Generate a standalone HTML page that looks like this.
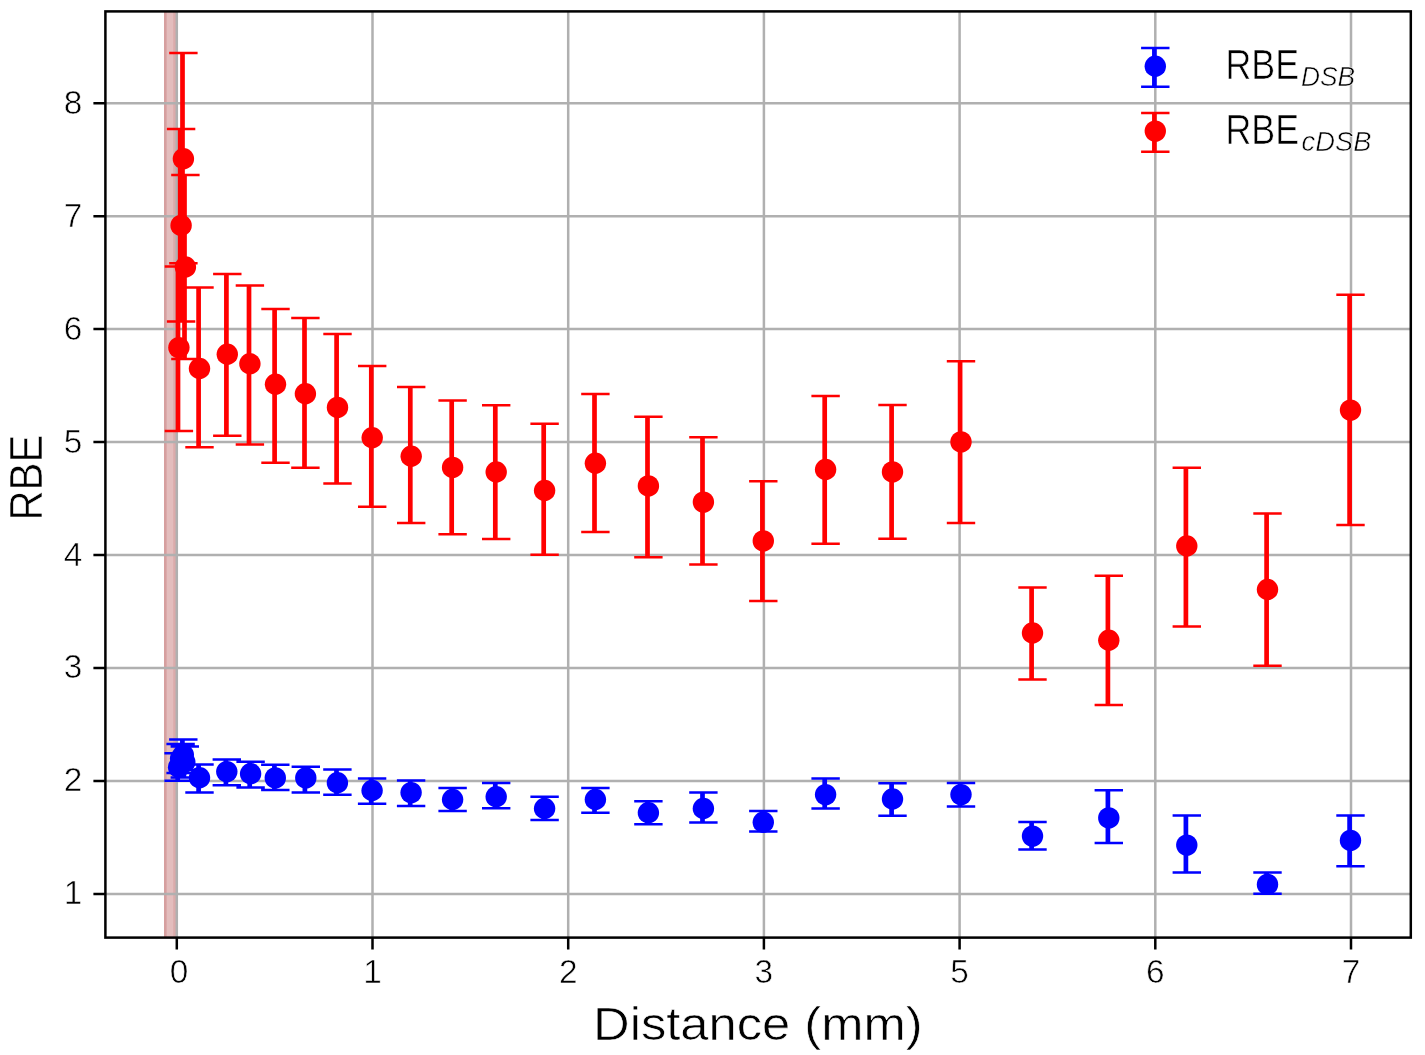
<!DOCTYPE html>
<html><head><meta charset="utf-8"><title>RBE vs Distance</title>
<style>html,body{margin:0;padding:0;background:#fff;overflow:hidden}svg{display:block}text{font-family:"Liberation Sans",sans-serif;fill:#000}.th{stroke:#fff;stroke-width:0.6px}svg{will-change:transform}</style></head><body>
<svg width="1425" height="1055" viewBox="0 0 1425 1055">
<rect x="0" y="0" width="1425" height="1055" fill="#fff"/>
<g fill="rgb(165,42,42)" fill-opacity="0.31"><rect x="164" y="11.4" width="12.8" height="926.2"/><rect x="164" y="11.4" width="2.6" height="926.2" fill-opacity="0.2"/><rect x="173.2" y="11.4" width="3.6" height="926.2" fill-opacity="0.12"/></g>
<path d="M176.8 11.4V937.6M372.5 11.4V937.6M568.2 11.4V937.6M763.9 11.4V937.6M959.6 11.4V937.6M1155.3 11.4V937.6M1351 11.4V937.6M105.4 893.9H1410.8M105.4 780.94H1410.8M105.4 667.98H1410.8M105.4 555.02H1410.8M105.4 442.06H1410.8M105.4 329.1H1410.8M105.4 216.14H1410.8M105.4 103.18H1410.8" stroke="#b0b0b0" stroke-width="2.5" fill="none"/>
<path d="M177.7 753.2V780.8M179.7 744V773M182.4 739.5V769.9M183.9 746.4V777.6M198.6 764.6V792.4M225.9 759.6V785.3M249.7 761.7V787.4M274.4 764.8V790.1M304.9 766.7V792.6M336.5 769.5V794.7M371.2 778.5V803.8M410.2 780.6V805.9M451.7 787.9V811.1M495.3 783V808.3M543.7 796.7V819.9M594.5 787.9V812.7M647.5 801.2V824.3M702.5 792.5V822.6M762.4 811.1V831.5M824.7 778.4V808.5M891.6 783.3V815.7M960.1 783V806.4M1031.6 822.1V849.6M1107.9 790.3V843M1185.9 815.6V872.6M1266.6 872.6V893.7M1349.6 815.6V866.2" stroke="#0000ff" stroke-width="4.7" fill="none"/>
<path d="M164.4 753.2H192.8M164.4 780.8H192.8M166.4 744H194.8M166.4 773H194.8M169.1 739.5H197.5M169.1 769.9H197.5M170.6 746.4H199M170.6 777.6H199M185.3 764.6H213.7M185.3 792.4H213.7M212.6 759.6H241M212.6 785.3H241M236.4 761.7H264.8M236.4 787.4H264.8M261.1 764.8H289.5M261.1 790.1H289.5M291.6 766.7H320M291.6 792.6H320M323.2 769.5H351.6M323.2 794.7H351.6M357.9 778.5H386.3M357.9 803.8H386.3M396.9 780.6H425.3M396.9 805.9H425.3M438.4 787.9H466.8M438.4 811.1H466.8M482 783H510.4M482 808.3H510.4M530.4 796.7H558.8M530.4 819.9H558.8M581.2 787.9H609.6M581.2 812.7H609.6M634.2 801.2H662.6M634.2 824.3H662.6M689.2 792.5H717.6M689.2 822.6H717.6M749.1 811.1H777.5M749.1 831.5H777.5M811.4 778.4H839.8M811.4 808.5H839.8M878.3 783.3H906.7M878.3 815.7H906.7M946.8 783H975.2M946.8 806.4H975.2M1018.3 822.1H1046.7M1018.3 849.6H1046.7M1094.6 790.3H1123M1094.6 843H1123M1172.6 815.6H1201M1172.6 872.6H1201M1253.3 872.6H1281.7M1253.3 893.7H1281.7M1336.3 815.6H1364.7M1336.3 866.2H1364.7" stroke="#0000ff" stroke-width="2.5" fill="none"/>
<g fill="#0000ff"><circle cx="178.6" cy="767.2" r="10.7"/><circle cx="180.6" cy="758.5" r="10.7"/><circle cx="183.3" cy="754.7" r="10.7"/><circle cx="184.8" cy="762" r="10.7"/><circle cx="199.5" cy="777.8" r="10.7"/><circle cx="226.8" cy="771.6" r="10.7"/><circle cx="250.6" cy="773.7" r="10.7"/><circle cx="275.3" cy="777.9" r="10.7"/><circle cx="305.8" cy="777.9" r="10.7"/><circle cx="337.4" cy="782.7" r="10.7"/><circle cx="372.1" cy="790.5" r="10.7"/><circle cx="411.1" cy="792.6" r="10.7"/><circle cx="452.6" cy="799.5" r="10.7"/><circle cx="496.2" cy="796.7" r="10.7"/><circle cx="544.6" cy="808.5" r="10.7"/><circle cx="595.4" cy="799.5" r="10.7"/><circle cx="648.4" cy="812.7" r="10.7"/><circle cx="703.4" cy="808.5" r="10.7"/><circle cx="763.3" cy="822.2" r="10.7"/><circle cx="825.6" cy="794.6" r="10.7"/><circle cx="892.5" cy="799" r="10.7"/><circle cx="961" cy="794.6" r="10.7"/><circle cx="1032.5" cy="836.1" r="10.7"/><circle cx="1108.8" cy="817.9" r="10.7"/><circle cx="1186.8" cy="845.1" r="10.7"/><circle cx="1267.5" cy="884.4" r="10.7"/><circle cx="1350.5" cy="840.4" r="10.7"/></g>
<path d="M178 266.6V430.9M180.2 128.9V321.5M182.5 52.9V263.2M184.5 174.9V359M198.6 287.5V447.2M226.4 273.9V435.7M249 285.6V444.4M274.6 308.9V462.8M304.5 318V467.7M336.6 334V483.6M371.3 366.1V506.7M410.3 386.9V522.9M451.7 400.6V534.3M495.3 405.3V538.9M543.7 423.8V554.7M594.5 393.9V532M647.5 416.8V557.3M702.5 437.3V564.6M762.4 481.2V601.1M824.7 396V543.8M891.6 405V538.8M960.1 361.2V522.9M1031.6 587.4V679.6M1107.9 575.7V704.9M1185.9 467.7V626.6M1266.6 513.5V665.8M1349.6 294.7V524.9" stroke="#ff0000" stroke-width="4.7" fill="none"/>
<path d="M164.7 266.6H193.1M164.7 430.9H193.1M166.9 128.9H195.3M166.9 321.5H195.3M169.2 52.9H197.6M169.2 263.2H197.6M171.2 174.9H199.6M171.2 359H199.6M185.3 287.5H213.7M185.3 447.2H213.7M213.1 273.9H241.5M213.1 435.7H241.5M235.7 285.6H264.1M235.7 444.4H264.1M261.3 308.9H289.7M261.3 462.8H289.7M291.2 318H319.6M291.2 467.7H319.6M323.3 334H351.7M323.3 483.6H351.7M358 366.1H386.4M358 506.7H386.4M397 386.9H425.4M397 522.9H425.4M438.4 400.6H466.8M438.4 534.3H466.8M482 405.3H510.4M482 538.9H510.4M530.4 423.8H558.8M530.4 554.7H558.8M581.2 393.9H609.6M581.2 532H609.6M634.2 416.8H662.6M634.2 557.3H662.6M689.2 437.3H717.6M689.2 564.6H717.6M749.1 481.2H777.5M749.1 601.1H777.5M811.4 396H839.8M811.4 543.8H839.8M878.3 405H906.7M878.3 538.8H906.7M946.8 361.2H975.2M946.8 522.9H975.2M1018.3 587.4H1046.7M1018.3 679.6H1046.7M1094.6 575.7H1123M1094.6 704.9H1123M1172.6 467.7H1201M1172.6 626.6H1201M1253.3 513.5H1281.7M1253.3 665.8H1281.7M1336.3 294.7H1364.7M1336.3 524.9H1364.7" stroke="#ff0000" stroke-width="2.5" fill="none"/>
<g fill="#ff0000"><circle cx="178.9" cy="347.6" r="10.7"/><circle cx="181.1" cy="225.4" r="10.7"/><circle cx="183.4" cy="158.7" r="10.7"/><circle cx="185.4" cy="267" r="10.7"/><circle cx="199.5" cy="368.5" r="10.7"/><circle cx="227.3" cy="354.2" r="10.7"/><circle cx="249.9" cy="363.8" r="10.7"/><circle cx="275.5" cy="384.3" r="10.7"/><circle cx="305.4" cy="393.7" r="10.7"/><circle cx="337.5" cy="407.4" r="10.7"/><circle cx="372.2" cy="437.8" r="10.7"/><circle cx="411.2" cy="456.3" r="10.7"/><circle cx="452.6" cy="467.4" r="10.7"/><circle cx="496.2" cy="472" r="10.7"/><circle cx="544.6" cy="490.5" r="10.7"/><circle cx="595.4" cy="463.2" r="10.7"/><circle cx="648.4" cy="485.9" r="10.7"/><circle cx="703.4" cy="502.1" r="10.7"/><circle cx="763.3" cy="540.9" r="10.7"/><circle cx="825.6" cy="469.5" r="10.7"/><circle cx="892.5" cy="471.9" r="10.7"/><circle cx="961" cy="441.9" r="10.7"/><circle cx="1032.5" cy="633" r="10.7"/><circle cx="1108.8" cy="640.2" r="10.7"/><circle cx="1186.8" cy="546" r="10.7"/><circle cx="1267.5" cy="589.5" r="10.7"/><circle cx="1350.5" cy="410.1" r="10.7"/></g>
<rect x="105.4" y="11.4" width="1305.4" height="926.2" fill="none" stroke="#000" stroke-width="2.5"/>
<path d="M176.8 937.6V949.6M372.5 937.6V949.6M568.2 937.6V949.6M763.9 937.6V949.6M959.6 937.6V949.6M1155.3 937.6V949.6M1351 937.6V949.6M105.4 893.9H93.4M105.4 780.94H93.4M105.4 667.98H93.4M105.4 555.02H93.4M105.4 442.06H93.4M105.4 329.1H93.4M105.4 216.14H93.4M105.4 103.18H93.4" stroke="#000" stroke-width="2.5" fill="none"/>
<text x="179" y="982.6" font-size="33.4" text-anchor="middle" class="th">0</text>
<text x="372.5" y="982.6" font-size="33.4" text-anchor="middle" class="th">1</text>
<text x="568.2" y="982.6" font-size="33.4" text-anchor="middle" class="th">2</text>
<text x="763.9" y="982.6" font-size="33.4" text-anchor="middle" class="th">3</text>
<text x="959.6" y="982.6" font-size="33.4" text-anchor="middle" class="th">5</text>
<text x="1155.3" y="982.6" font-size="33.4" text-anchor="middle" class="th">6</text>
<text x="1351" y="982.6" font-size="33.4" text-anchor="middle" class="th">7</text>
<text x="82.3" y="904.4" font-size="33.4" text-anchor="end" class="th">1</text>
<text x="82.3" y="791.44" font-size="33.4" text-anchor="end" class="th">2</text>
<text x="82.3" y="678.48" font-size="33.4" text-anchor="end" class="th">3</text>
<text x="82.3" y="565.52" font-size="33.4" text-anchor="end" class="th">4</text>
<text x="82.3" y="452.56" font-size="33.4" text-anchor="end" class="th">5</text>
<text x="82.3" y="339.6" font-size="33.4" text-anchor="end" class="th">6</text>
<text x="82.3" y="226.64" font-size="33.4" text-anchor="end" class="th">7</text>
<text x="82.3" y="113.68" font-size="33.4" text-anchor="end" class="th">8</text>
<text transform="translate(757.8,1039.8) scale(1.10,1)" font-size="46.1" text-anchor="middle" class="th">Distance (mm)</text>
<text transform="translate(41.7,477.6) rotate(-90) scale(0.905,1)" font-size="46.2" text-anchor="middle" class="th">RBE</text>
<path d="M1154.4 48V86.8" stroke="#0000ff" stroke-width="4.7"/>
<path d="M1141.1 48H1169.5M1141.1 86.8H1169.5" stroke="#0000ff" stroke-width="2.5"/>
<circle cx="1155.3" cy="66.2" r="10.7" fill="#0000ff"/>
<path d="M1154.4 112.9V151.7" stroke="#ff0000" stroke-width="4.7"/>
<path d="M1141.1 112.9H1169.5M1141.1 151.7H1169.5" stroke="#ff0000" stroke-width="2.5"/>
<circle cx="1155.3" cy="131.1" r="10.7" fill="#ff0000"/>
<text transform="translate(1225.5,79.3) scale(0.848,1)" font-size="42.2" class="th">RBE</text>
<text transform="translate(1225.5,143.7) scale(0.848,1)" font-size="42.2" class="th">RBE</text>
<text transform="translate(1300.9,85.5) scale(0.932,1)" font-size="28.3" font-style="italic" class="th">DSB</text>
<text transform="translate(1301.6,150.5) scale(0.966,1)" font-size="28.3" font-style="italic" class="th">cDSB</text>
</svg></body></html>
